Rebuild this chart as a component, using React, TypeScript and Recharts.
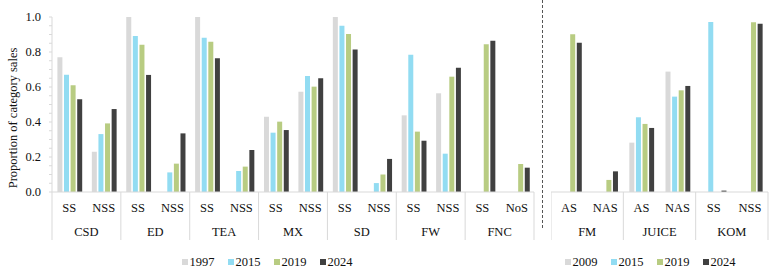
import React from "react";
import { BarChart, Bar, XAxis, YAxis } from "recharts";

// Left panel: category groups and their sub-segments
const groupsL = ["CSD", "ED", "TEA", "MX", "SD", "FW", "FNC"];
const subsL = ["SS", "NSS", "SS", "NSS", "SS", "NSS", "SS", "NSS", "SS", "NSS", "SS", "NSS", "SS", "NoS"];
const yearsL = ["1997", "2015", "2019", "2024"];
const l1997 = [0.77, 0.23, 1.0, null, 1.0, null, 0.43, 0.573, 1.0, null, 0.438, 0.564, null, null];
const l2015 = [0.67, 0.331, 0.891, 0.112, 0.882, 0.12, 0.339, 0.663, 0.95, 0.051, 0.785, 0.219, null, null];
const l2019 = [0.61, 0.392, 0.842, 0.162, 0.859, 0.145, 0.402, 0.602, 0.903, 0.1, 0.345, 0.659, 0.844, 0.16];
const l2024 = [0.53, 0.474, 0.669, 0.335, 0.764, 0.24, 0.354, 0.65, 0.815, 0.189, 0.293, 0.71, 0.865, 0.139];

// Right panel
const groupsR = ["FM", "JUICE", "KOM"];
const subsR = ["AS", "NAS", "AS", "NAS", "SS", "NSS"];
const yearsR = ["2009", "2015", "2019", "2024"];
const r2009 = [null, null, 0.282, 0.688, null, null];
const r2015 = [null, null, 0.427, 0.545, 0.971, null];
const r2019 = [0.901, 0.069, 0.389, 0.581, null, 0.97];
const r2024 = [0.853, 0.118, 0.366, 0.606, 0.008, 0.962];

const yTicks = [0, 0.05, 0.1, 0.15, 0.2, 0.25, 0.3, 0.35, 0.4, 0.45, 0.5, 0.55, 0.6, 0.65, 0.7, 0.75, 0.8, 0.85, 0.9, 0.95, 1.0];

const COLORS = ["#d9d9d9", "#92dcf2", "#b8cc82", "#404040"];
const FONT = "'Liberation Serif', 'Times New Roman', serif";
const AXIS_GREY = "#d9d9d9";

const dataL = subsL.map((s, i) => ({ sub: s, a: l1997[i], b: l2015[i], c: l2019[i], d: l2024[i] }));
const dataR = subsR.map((s, i) => ({ sub: s, a: r2009[i], b: r2015[i], c: r2019[i], d: r2024[i] }));

const H = 273;
const TOP = 17;
const XAXIS_H = 48;
const BOTTOM = H - 192 - XAXIS_H;

function makeXTick(groups: string[], band: number, count: number) {
  return (props: any) => {
    const { x, y, payload, index } = props;
    const i = index;
    return (
      <g>
        <text x={x} y={y + 16} textAnchor="middle" dominantBaseline="central" fontFamily={FONT} fontSize={12.5} fill="#111">
          {payload.value}
        </text>
        {i % 2 === 0 && (
          <>
            <line x1={x - band / 2} x2={x - band / 2} y1={y} y2={y + XAXIS_H} stroke={AXIS_GREY} />
            <text x={x + band / 2} y={y + 40} textAnchor="middle" dominantBaseline="central" fontFamily={FONT} fontSize={12.5} fill="#111">
              {groups[i / 2]}
            </text>
          </>
        )}
        {i === count - 1 && <line x1={x + band / 2} x2={x + band / 2} y1={y} y2={y + XAXIS_H} stroke={AXIS_GREY} />}
      </g>
    );
  };
}

const YTick = (props: any) => {
  const { x, y, payload } = props;
  const v = payload.value;
  if (Math.round(v * 100) % 20 !== 0) return <g />;
  return (
    <text x={x} y={y} textAnchor="end" dominantBaseline="central" fontFamily={FONT} fontSize={12.5} fill="#111">
      {v.toFixed(1)}
    </text>
  );
};

function Legend({ years, left, width }: { years: string[]; left: number; width: number }) {
  return (
    <div
      style={{
        position: "absolute",
        left,
        top: 254,
        width,
        display: "flex",
        justifyContent: "center",
        gap: 13,
        fontFamily: FONT,
        fontSize: 12.5,
        color: "#111",
        lineHeight: "16px",
      }}
    >
      {years.map((yr, k) => (
        <div key={yr} style={{ display: "flex", alignItems: "center" }}>
          <span style={{ width: 6, height: 6, background: COLORS[k], marginRight: 2, display: "inline-block" }} />
          <span>{yr}</span>
        </div>
      ))}
    </div>
  );
}

function Bars() {
  return ["a", "b", "c", "d"].map((k, j) => (
    <Bar key={k} dataKey={k} fill={COLORS[j]} isAnimationActive={false} />
  ));
}

export default function App() {
  const LW = 540;
  const LPLOT = 534 - 52;
  const RLEFT = 551;
  const RW = 774 - RLEFT;
  const RPLOT = 768 - RLEFT;
  return (
    <div style={{ position: "absolute", left: 0, top: 0, width: 774, height: H, background: "#fff" }}>
      <div style={{ position: "absolute", left: 0, top: 0 }}>
        <BarChart
          width={LW}
          height={H}
          data={dataL}
          margin={{ top: TOP, right: LW - 534, left: 0, bottom: BOTTOM }}
          barCategoryGap={5.4}
          barGap={1.6}
        >
          <XAxis
            dataKey="sub"
            interval={0}
            height={XAXIS_H}
            tickLine={false}
            tickSize={0}
            tickMargin={0}
            axisLine={{ stroke: AXIS_GREY }}
            tick={makeXTick(groupsL, LPLOT / subsL.length, subsL.length)}
          />
          <YAxis
            width={52}
            domain={[0, 1]}
            ticks={yTicks}
            interval={0}
            tickSize={3}
            tickMargin={8}
            axisLine={{ stroke: AXIS_GREY }}
            tickLine={{ stroke: AXIS_GREY }}
            tick={YTick}
            label={{
              content: () => (
                <text
                  x={12.5}
                  y={118}
                  transform="rotate(-90, 12.5, 118)"
                  textAnchor="middle"
                  dominantBaseline="central"
                  fontFamily={FONT}
                  fontSize={12.5}
                  fill="#111"
                >
                  Proportion of category sales
                </text>
              ),
            }}
          />
          {Bars()}
        </BarChart>
      </div>

      <svg style={{ position: "absolute", left: 0, top: 0 }} width={774} height={H} pointerEvents="none">
        <line x1={542.5} x2={542.5} y1={0} y2={229} stroke="#555" strokeDasharray="3 2" />
      </svg>

      <div style={{ position: "absolute", left: RLEFT, top: 0 }}>
        <BarChart
          width={RW}
          height={H}
          data={dataR}
          margin={{ top: TOP, right: RW - RPLOT, left: 0, bottom: BOTTOM }}
          barCategoryGap={6}
          barGap={1.6}
        >
          <XAxis
            dataKey="sub"
            interval={0}
            height={XAXIS_H}
            tickLine={false}
            tickSize={0}
            tickMargin={0}
            axisLine={{ stroke: AXIS_GREY }}
            tick={makeXTick(groupsR, RPLOT / subsR.length, subsR.length)}
          />
          <YAxis hide domain={[0, 1]} />
          {Bars()}
        </BarChart>
      </div>

      <Legend years={yearsL} left={0} width={534} />
      <Legend years={yearsR} left={542} width={216} />
    </div>
  );
}
